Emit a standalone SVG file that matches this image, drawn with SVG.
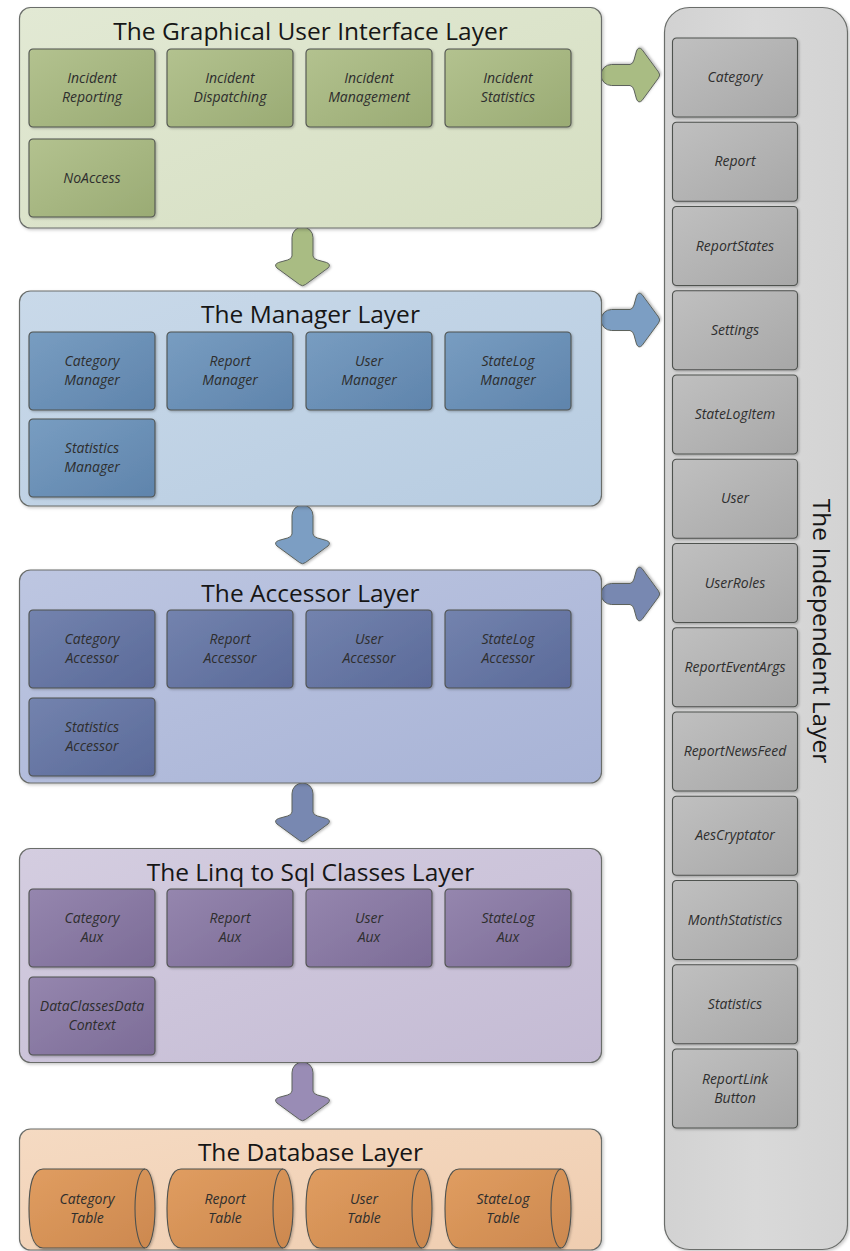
<svg xmlns="http://www.w3.org/2000/svg" xmlns:xlink="http://www.w3.org/1999/xlink" width="850" height="1251" viewBox="0 0 850 1251">
<style>
.layer{stroke:#6a6d6a;stroke-width:1.2;filter:url(#sh)}
.box{stroke:#4f524f;stroke-width:1.1;filter:url(#sh2)}
.arrow{stroke:#5d625c;stroke-width:1;stroke-linejoin:round;filter:url(#sh2)}
.title{font-family:"Open Sans","Noto Sans","Liberation Sans",sans-serif;font-size:24.5px;fill:#161616;text-anchor:middle}
.lbl{font-family:"Open Sans","Noto Sans","Liberation Sans",sans-serif;font-style:italic;font-size:14px;fill:#2e2e2e;text-anchor:middle}
</style>
<defs>
<filter id="sh" x="-5%" y="-5%" width="112%" height="112%"><feDropShadow dx="1.5" dy="1.5" stdDeviation="1.5" flood-color="#000" flood-opacity="0.22"/></filter>
<filter id="sh2" x="-10%" y="-10%" width="130%" height="130%"><feDropShadow dx="1.2" dy="1.2" stdDeviation="1" flood-color="#000" flood-opacity="0.25"/></filter>
<linearGradient id="gGuiL" x1="0" y1="0" x2="1" y2="1"><stop offset="0" stop-color="#e2e9d4"/><stop offset="1" stop-color="#d5dec1"/></linearGradient>
<linearGradient id="gGuiB" x1="0" y1="0" x2="1" y2="1"><stop offset="0" stop-color="#b3c28f"/><stop offset="1" stop-color="#9aab74"/></linearGradient>
<linearGradient id="gMgrL" x1="0" y1="0" x2="1" y2="1"><stop offset="0" stop-color="#c9d9e9"/><stop offset="1" stop-color="#b7cce1"/></linearGradient>
<linearGradient id="gMgrB" x1="0" y1="0" x2="1" y2="1"><stop offset="0" stop-color="#789dc1"/><stop offset="1" stop-color="#5f84ac"/></linearGradient>
<linearGradient id="gAccL" x1="0" y1="0" x2="1" y2="1"><stop offset="0" stop-color="#bdc6e1"/><stop offset="1" stop-color="#a8b3d6"/></linearGradient>
<linearGradient id="gAccB" x1="0" y1="0" x2="1" y2="1"><stop offset="0" stop-color="#7383ae"/><stop offset="1" stop-color="#5b6a99"/></linearGradient>
<linearGradient id="gLinqL" x1="0" y1="0" x2="1" y2="1"><stop offset="0" stop-color="#d4cde0"/><stop offset="1" stop-color="#c4bbd4"/></linearGradient>
<linearGradient id="gLinqB" x1="0" y1="0" x2="1" y2="1"><stop offset="0" stop-color="#9586ae"/><stop offset="1" stop-color="#7c6c97"/></linearGradient>
<linearGradient id="gDbL" x1="0" y1="0" x2="1" y2="1"><stop offset="0" stop-color="#f5dac2"/><stop offset="1" stop-color="#efcdb0"/></linearGradient>
<linearGradient id="gDbC" x1="0" y1="0" x2="1" y2="1"><stop offset="0" stop-color="#e09d60"/><stop offset="1" stop-color="#cc884f"/></linearGradient>
<linearGradient id="gIndL" x1="0" y1="0" x2="1" y2="0"><stop offset="0" stop-color="#d2d2d2"/><stop offset="0.5" stop-color="#d9d9d9"/><stop offset="1" stop-color="#d3d3d3"/></linearGradient>
<linearGradient id="gIndB" x1="0" y1="0" x2="1" y2="1"><stop offset="0" stop-color="#c0c0c0"/><stop offset="1" stop-color="#a7a7a7"/></linearGradient>
<path id="arr" d="M-10.5,10.5 A10.5,10.5 0 0 1 10.5,10.5 L10.5,29 Q11,32 15,33 L24,35.5 Q29,37.5 25.5,41 L3,57.5 Q0,60 -3,57.5 L-25.5,41 Q-29,37.5 -24,35.5 L-15,33 Q-11,32 -10.5,29 Z"/>
<path id="cyl" d="M14,0 L116,0 A10,39.5 0 0 1 116,79 L14,79 C3,79 0,60 0,39.5 C0,19 3,0 14,0 Z"/>
</defs>

<g id="connectors">
<use xlink:href="#arr" class="arrow" fill="#a9bc83" transform="translate(302.5,227)"/>
<use xlink:href="#arr" class="arrow" fill="#7b9ec3" transform="translate(302.5,505)"/>
<use xlink:href="#arr" class="arrow" fill="#7888b1" transform="translate(302.5,783)"/>
<use xlink:href="#arr" class="arrow" fill="#998cb5" transform="translate(302.5,1062)"/>
<use xlink:href="#arr" class="arrow" fill="#a9bc83" transform="translate(601,75) rotate(-90)"/>
<use xlink:href="#arr" class="arrow" fill="#7b9ec3" transform="translate(601,320) rotate(-90)"/>
<use xlink:href="#arr" class="arrow" fill="#7888b1" transform="translate(601,594) rotate(-90)"/>
</g>

<g id="gui-layer">
<rect class="layer" x="19.5" y="7.5" width="582" height="220.5" rx="11" fill="url(#gGuiL)"/>
<text class="title" x="310.5" y="40">The Graphical User Interface Layer</text>
<g id="gui-incident-reporting" transform="translate(29,49)"><rect class="box" width="126" height="78" rx="4" fill="url(#gGuiB)"/><text class="lbl" x="63" y="33.5">Incident</text><text class="lbl" x="63" y="52.5">Reporting</text></g>
<g id="gui-incident-dispatching" transform="translate(167,49)"><rect class="box" width="126" height="78" rx="4" fill="url(#gGuiB)"/><text class="lbl" x="63" y="33.5">Incident</text><text class="lbl" x="63" y="52.5">Dispatching</text></g>
<g id="gui-incident-management" transform="translate(306,49)"><rect class="box" width="126" height="78" rx="4" fill="url(#gGuiB)"/><text class="lbl" x="63" y="33.5">Incident</text><text class="lbl" x="63" y="52.5">Management</text></g>
<g id="gui-incident-statistics" transform="translate(445,49)"><rect class="box" width="126" height="78" rx="4" fill="url(#gGuiB)"/><text class="lbl" x="63" y="33.5">Incident</text><text class="lbl" x="63" y="52.5">Statistics</text></g>
<g id="gui-noaccess" transform="translate(29,139)"><rect class="box" width="126" height="78" rx="4" fill="url(#gGuiB)"/><text class="lbl" x="63" y="43.5">NoAccess</text></g>
</g>

<g id="manager-layer">
<rect class="layer" x="19.5" y="291" width="582" height="215" rx="11" fill="url(#gMgrL)"/>
<text class="title" x="310.5" y="323">The Manager Layer</text>
<g id="mgr-category" transform="translate(29,332)"><rect class="box" width="126" height="78" rx="4" fill="url(#gMgrB)"/><text class="lbl" x="63" y="33.5">Category</text><text class="lbl" x="63" y="52.5">Manager</text></g>
<g id="mgr-report" transform="translate(167,332)"><rect class="box" width="126" height="78" rx="4" fill="url(#gMgrB)"/><text class="lbl" x="63" y="33.5">Report</text><text class="lbl" x="63" y="52.5">Manager</text></g>
<g id="mgr-user" transform="translate(306,332)"><rect class="box" width="126" height="78" rx="4" fill="url(#gMgrB)"/><text class="lbl" x="63" y="33.5">User</text><text class="lbl" x="63" y="52.5">Manager</text></g>
<g id="mgr-statelog" transform="translate(445,332)"><rect class="box" width="126" height="78" rx="4" fill="url(#gMgrB)"/><text class="lbl" x="63" y="33.5">StateLog</text><text class="lbl" x="63" y="52.5">Manager</text></g>
<g id="mgr-statistics" transform="translate(29,419)"><rect class="box" width="126" height="78" rx="4" fill="url(#gMgrB)"/><text class="lbl" x="63" y="33.5">Statistics</text><text class="lbl" x="63" y="52.5">Manager</text></g>
</g>

<g id="accessor-layer">
<rect class="layer" x="19.5" y="570" width="582" height="213" rx="11" fill="url(#gAccL)"/>
<text class="title" x="310.5" y="602">The Accessor Layer</text>
<g id="acc-category" transform="translate(29,610)"><rect class="box" width="126" height="78" rx="4" fill="url(#gAccB)"/><text class="lbl" x="63" y="33.5">Category</text><text class="lbl" x="63" y="52.5">Accessor</text></g>
<g id="acc-report" transform="translate(167,610)"><rect class="box" width="126" height="78" rx="4" fill="url(#gAccB)"/><text class="lbl" x="63" y="33.5">Report</text><text class="lbl" x="63" y="52.5">Accessor</text></g>
<g id="acc-user" transform="translate(306,610)"><rect class="box" width="126" height="78" rx="4" fill="url(#gAccB)"/><text class="lbl" x="63" y="33.5">User</text><text class="lbl" x="63" y="52.5">Accessor</text></g>
<g id="acc-statelog" transform="translate(445,610)"><rect class="box" width="126" height="78" rx="4" fill="url(#gAccB)"/><text class="lbl" x="63" y="33.5">StateLog</text><text class="lbl" x="63" y="52.5">Accessor</text></g>
<g id="acc-statistics" transform="translate(29,698)"><rect class="box" width="126" height="78" rx="4" fill="url(#gAccB)"/><text class="lbl" x="63" y="33.5">Statistics</text><text class="lbl" x="63" y="52.5">Accessor</text></g>
</g>

<g id="linq-layer">
<rect class="layer" x="19.5" y="848.5" width="582" height="214" rx="11" fill="url(#gLinqL)"/>
<text class="title" x="310.5" y="880.5">The Linq to Sql Classes Layer</text>
<g id="linq-category" transform="translate(29,889)"><rect class="box" width="126" height="78" rx="4" fill="url(#gLinqB)"/><text class="lbl" x="63" y="33.5">Category</text><text class="lbl" x="63" y="52.5">Aux</text></g>
<g id="linq-report" transform="translate(167,889)"><rect class="box" width="126" height="78" rx="4" fill="url(#gLinqB)"/><text class="lbl" x="63" y="33.5">Report</text><text class="lbl" x="63" y="52.5">Aux</text></g>
<g id="linq-user" transform="translate(306,889)"><rect class="box" width="126" height="78" rx="4" fill="url(#gLinqB)"/><text class="lbl" x="63" y="33.5">User</text><text class="lbl" x="63" y="52.5">Aux</text></g>
<g id="linq-statelog" transform="translate(445,889)"><rect class="box" width="126" height="78" rx="4" fill="url(#gLinqB)"/><text class="lbl" x="63" y="33.5">StateLog</text><text class="lbl" x="63" y="52.5">Aux</text></g>
<g id="linq-datacontext" transform="translate(29,977)"><rect class="box" width="126" height="78" rx="4" fill="url(#gLinqB)"/><text class="lbl" x="63" y="33.5">DataClassesData</text><text class="lbl" x="63" y="52.5">Context</text></g>
</g>

<g id="database-layer">
<rect class="layer" x="19.5" y="1129" width="582" height="121" rx="11" fill="url(#gDbL)"/>
<text class="title" x="310.5" y="1161">The Database Layer</text>
<g id="db-category" transform="translate(29,1169)"><use xlink:href="#cyl" class="box" fill="url(#gDbC)"/><path d="M116,0 A10,39.5 0 0 0 116,79" fill="none" stroke="#4f524f" stroke-width="1.1"/><text class="lbl" x="58" y="35">Category</text><text class="lbl" x="58" y="53.5">Table</text></g>
<g id="db-report" transform="translate(167,1169)"><use xlink:href="#cyl" class="box" fill="url(#gDbC)"/><path d="M116,0 A10,39.5 0 0 0 116,79" fill="none" stroke="#4f524f" stroke-width="1.1"/><text class="lbl" x="58" y="35">Report</text><text class="lbl" x="58" y="53.5">Table</text></g>
<g id="db-user" transform="translate(306,1169)"><use xlink:href="#cyl" class="box" fill="url(#gDbC)"/><path d="M116,0 A10,39.5 0 0 0 116,79" fill="none" stroke="#4f524f" stroke-width="1.1"/><text class="lbl" x="58" y="35">User</text><text class="lbl" x="58" y="53.5">Table</text></g>
<g id="db-statelog" transform="translate(445,1169)"><use xlink:href="#cyl" class="box" fill="url(#gDbC)"/><path d="M116,0 A10,39.5 0 0 0 116,79" fill="none" stroke="#4f524f" stroke-width="1.1"/><text class="lbl" x="58" y="35">StateLog</text><text class="lbl" x="58" y="53.5">Table</text></g>
</g>

<g id="independent-layer">
<rect class="layer" x="664.5" y="7.5" width="183" height="1242" rx="25" fill="url(#gIndL)"/>
<text class="title" transform="translate(813,631) rotate(90)" x="0" y="0">The Independent Layer</text>
<g id="ind-category" transform="translate(672.5,38)"><rect class="box" width="125" height="79" rx="4" fill="url(#gIndB)"/><text class="lbl" x="62.5" y="44">Category</text></g>
<g id="ind-report" transform="translate(672.5,122.25)"><rect class="box" width="125" height="79" rx="4" fill="url(#gIndB)"/><text class="lbl" x="62.5" y="44">Report</text></g>
<g id="ind-reportstates" transform="translate(672.5,206.5)"><rect class="box" width="125" height="79" rx="4" fill="url(#gIndB)"/><text class="lbl" x="62.5" y="44">ReportStates</text></g>
<g id="ind-settings" transform="translate(672.5,290.75)"><rect class="box" width="125" height="79" rx="4" fill="url(#gIndB)"/><text class="lbl" x="62.5" y="44">Settings</text></g>
<g id="ind-statelogitem" transform="translate(672.5,375)"><rect class="box" width="125" height="79" rx="4" fill="url(#gIndB)"/><text class="lbl" x="62.5" y="44">StateLogItem</text></g>
<g id="ind-user" transform="translate(672.5,459.25)"><rect class="box" width="125" height="79" rx="4" fill="url(#gIndB)"/><text class="lbl" x="62.5" y="44">User</text></g>
<g id="ind-userroles" transform="translate(672.5,543.5)"><rect class="box" width="125" height="79" rx="4" fill="url(#gIndB)"/><text class="lbl" x="62.5" y="44">UserRoles</text></g>
<g id="ind-reporteventargs" transform="translate(672.5,627.75)"><rect class="box" width="125" height="79" rx="4" fill="url(#gIndB)"/><text class="lbl" x="62.5" y="44">ReportEventArgs</text></g>
<g id="ind-reportnewsfeed" transform="translate(672.5,712)"><rect class="box" width="125" height="79" rx="4" fill="url(#gIndB)"/><text class="lbl" x="62.5" y="44">ReportNewsFeed</text></g>
<g id="ind-aescryptator" transform="translate(672.5,796.25)"><rect class="box" width="125" height="79" rx="4" fill="url(#gIndB)"/><text class="lbl" x="62.5" y="44">AesCryptator</text></g>
<g id="ind-monthstatistics" transform="translate(672.5,880.5)"><rect class="box" width="125" height="79" rx="4" fill="url(#gIndB)"/><text class="lbl" x="62.5" y="44">MonthStatistics</text></g>
<g id="ind-statistics" transform="translate(672.5,964.75)"><rect class="box" width="125" height="79" rx="4" fill="url(#gIndB)"/><text class="lbl" x="62.5" y="44">Statistics</text></g>
<g id="ind-reportlinkbutton" transform="translate(672.5,1049)"><rect class="box" width="125" height="79" rx="4" fill="url(#gIndB)"/><text class="lbl" x="62.5" y="34.5">ReportLink</text><text class="lbl" x="62.5" y="53.5">Button</text></g>
</g>
</svg>
